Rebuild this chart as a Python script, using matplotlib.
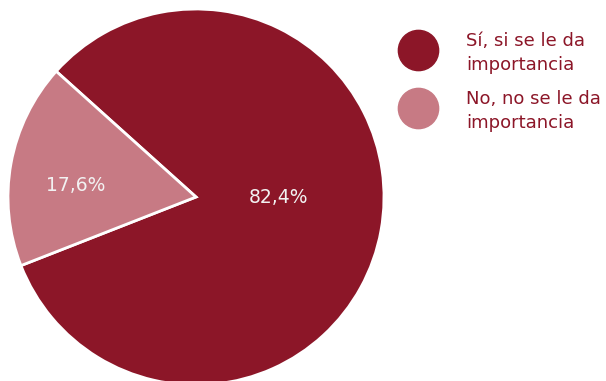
import matplotlib.pyplot as plt

# Data
labels = ["Sí, si se le da\nimportancia", "No, no se le da\nimportancia"]
values = [82.4, 17.6]
pct_text = ["82,4%", "17,6%"]
colors = ["#8C1628", "#C77A84"]
text_color = "#8C1628"

plt.rcParams['font.family'] = ['DejaVu Sans']

W, H = 606, 381
fig = plt.figure(figsize=(W / 100, H / 100), dpi=100)
ax = fig.add_axes([8 / W, -4 / H, 376 / W, 376 / H])

wedges, _ = ax.pie(values, colors=colors, startangle=201.4, counterclock=True,
                   wedgeprops=dict(edgecolor="white", linewidth=2))
ax.set_xlim(-1, 1)
ax.set_ylim(-1, 1)
ax.set_aspect("equal")
ax.axis("off")

# percentage labels
label_pos = [(0.44, -0.005), (-0.64, 0.06)]
for (x, y), t in zip(label_pos, pct_text):
    ax.text(x, y, t, ha="center", va="center", color="#F2F2F2", fontsize=13.5)

# legend drawn on an overlay in pixel coordinates
lax = fig.add_axes([0, 0, 1, 1])
lax.set_xlim(0, W)
lax.set_ylim(H, 0)
lax.axis("off")
legend_y = [50, 108]
for y, c, lab in zip(legend_y, colors, labels):
    lax.plot([418], [y], marker="o", markersize=29, color=c, linestyle="none")
    lax.text(466, y + 3, lab, ha="left", va="center", color=text_color,
             fontsize=13, linespacing=1.45)

fig.savefig("out.png", dpi=100)
